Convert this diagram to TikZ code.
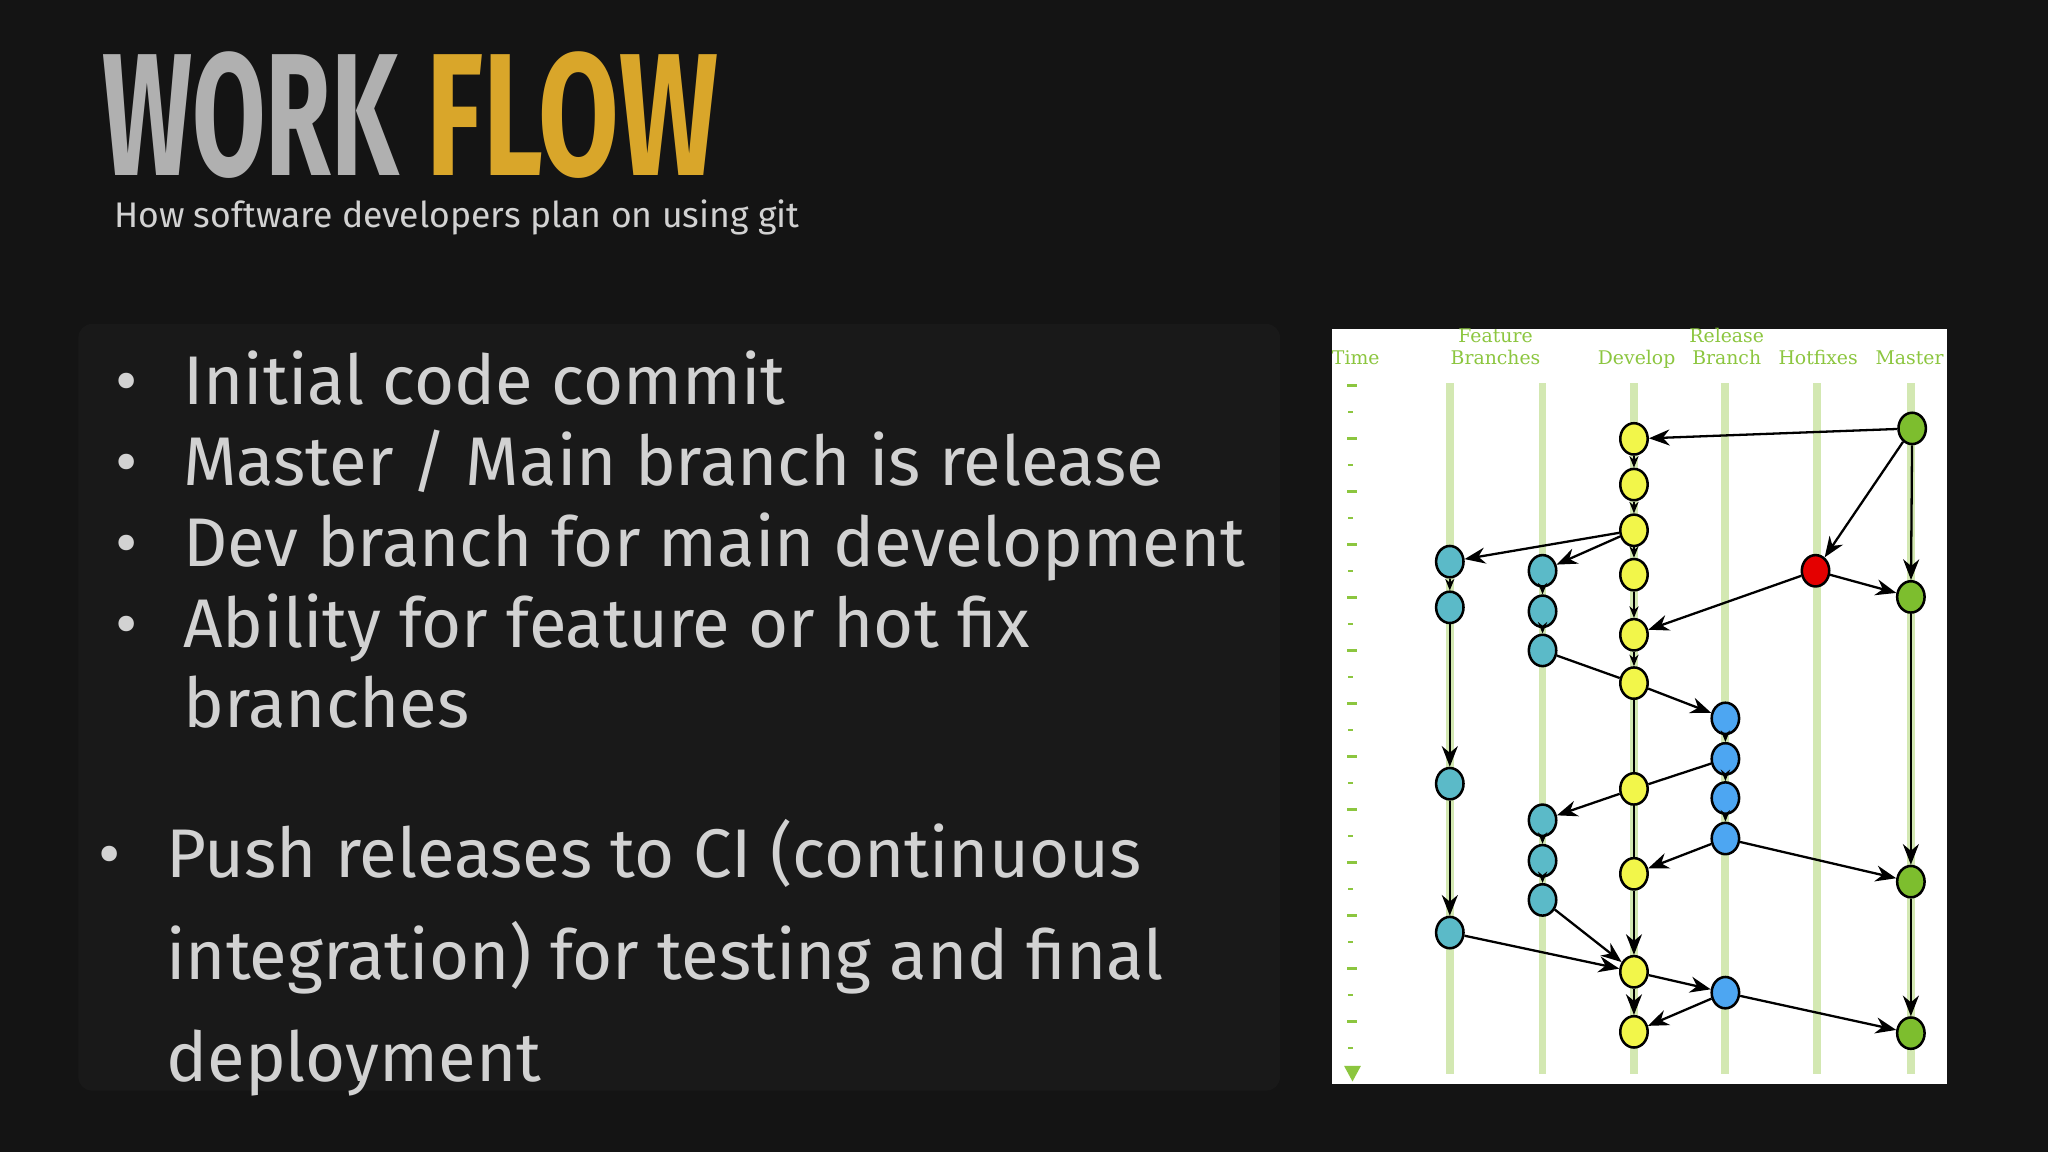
\documentclass[tikz,border=0pt]{standalone}
\usepackage{fontspec}
\setmainfont{Fira Sans}
\newfontfamily\slab{DejaVu Serif}
\usetikzlibrary{shapes.geometric,arrows.meta}
\definecolor{bg}{HTML}{141414}
\definecolor{panel}{HTML}{191919}
\definecolor{txt}{HTML}{D2D2D2}
\definecolor{hdr}{HTML}{8CC63F}
\definecolor{stripe}{HTML}{D3E8B2}
\definecolor{cy}{HTML}{F2F64A}
\definecolor{ct}{HTML}{5BBAC8}
\definecolor{cb}{HTML}{4DA6F2}
\definecolor{cg}{HTML}{7DBE2E}
\definecolor{cr}{HTML}{E40000}
\definecolor{gold}{HTML}{D9A62A}
\definecolor{silver}{HTML}{B0B0B0}
\tikzset{
 commitnode/.style={ellipse,draw=black,line width=1.1pt,inner sep=0,minimum width=0.42cm,minimum height=0.48cm},
 ye/.style={commitnode,fill=cy}, te/.style={commitnode,fill=ct}, bl/.style={commitnode,fill=cb}, gr/.style={commitnode,fill=cg}, rd/.style={commitnode,fill=cr},
 ar/.style={line width=1pt,-{Stealth[length=9pt,width=7pt]}},
 sa/.style={line width=1pt,-{Stealth[length=5pt,width=4pt]}},
 ln/.style={line width=1pt},
 hd/.style={text=hdr,font=\slab\fontsize{8.2}{9}\selectfont,align=center,anchor=base},
 bul/.style={text=txt,anchor=base west,font=\fontsize{30}{34}\selectfont},
 ttl/.style={anchor=base west,inner sep=0,text depth=0pt},
}
\begin{document}
\begin{tikzpicture}[x=0.02cm,y=-0.02cm]
\fill[bg] (0,0) rectangle (1568,882);
\useasboundingbox (0,0) rectangle (1568,882);
\fill[panel,rounded corners=6pt] (60,248) rectangle (980,835);
% title
\node[ttl,text=silver] (w) at (78,134) {\scalebox{0.61}[1]{\fontsize{76}{76}\selectfont\bfseries WORK}};
\node[ttl,text=gold] (f) at (326,134) {\scalebox{0.67}[1]{\fontsize{76}{76}\selectfont\bfseries FLOW}};
\node[anchor=base west,inner sep=0,text=txt,font=\fontsize{15.5}{18}\selectfont] (sub) at (87,174) {How software developers plan on using git};
% bullets
\foreach \y/\t [count=\i] in {310/{Initial code commit},372/{Master / Main branch is release},434/{Dev branch for main development},496/{Ability for feature or hot fix}}{
 \node[bul,inner sep=0] (b\i) at (88,\y) {•};
 \node[bul,inner sep=0] (t\i) at (140,\y) {\t};}
\node[bul,inner sep=0] (t5) at (140,557) {branches};
\node[bul,inner sep=0] (b6) at (75,672) {•};
\node[bul,inner sep=0] (t6) at (127,672) {Push releases to CI (continuous};
\node[bul,inner sep=0] (t7) at (127,750) {integration) for testing and final};
\node[bul,inner sep=0] (t8) at (127,828) {deployment};
% diagram panel
\fill[white] (1020,252) rectangle (1491,830);
\foreach \x in {1110,1181,1251,1321,1391,1463}{\fill[stripe] (\x-3,293) rectangle (\x+3,822);}
\foreach \k in {0,...,25}{
 \pgfmathsetmacro{\yy}{295+\k*20.3}
 \ifodd\k \fill[hdr] (1032,\yy-1) rectangle (1036,\yy+1); \else \fill[hdr] (1031,\yy-1.3) rectangle (1039,\yy+1.3);\fi}
\fill[hdr] (1029,816) -- (1042,816) -- (1035.5,828) -- cycle;
\node[hd] (hT) at (1038,279) {Time};
\node[hd] (hF) at (1145,279) {Branches};
\node[hd] at (1145,262) {Feature};
\node[hd] (hD) at (1253,279) {Develop};
\node[hd] (hR) at (1322,279) {Branch};
\node[hd] at (1322,262) {Release};
\node[hd] (hH) at (1392,279) {Hotfixes};
\node[hd] (hM) at (1462,279) {Master};
% nodes
\node[gr] (m1) at (1464,328) {}; \node[gr] (m2) at (1463,457) {};
\node[gr] (m3) at (1463,675) {}; \node[gr] (m4) at (1463,791) {};
\node[rd] (h1) at (1390,437) {};
\foreach \i/\y in {1/336,2/371,3/406,4/440,5/486,6/523,7/604,8/669,9/744,10/790}{\node[ye] (d\i) at (1251,\y) {};}
\foreach \i/\y in {1/430,2/465,3/600,4/714}{\node[te] (f\i) at (1110,\y) {};}
\foreach \i/\y in {1/437,2/468,3/498,4/628,5/659,6/689}{\node[te] (g\i) at (1181,\y) {};}
\foreach \i/\y in {1/550,2/581,3/611,4/642,5/760}{\node[bl] (r\i) at (1321,\y) {};}
% edges
\draw[ar] (m1) -- (d1); \draw[ar] (m1) -- (h1); \draw[ar] (m1) -- (m2);
\draw[ar] (h1) -- (m2); \draw[ar] (h1) -- (d5);
\draw[sa] (d1) -- (d2); \draw[sa] (d2) -- (d3); \draw[sa] (d3) -- (d4);
\draw[ar] (d3) -- (f1); \draw[ar] (d3) -- (g1);
\draw[sa] (d4) -- (d5); \draw[sa] (d5) -- (d6);
\draw[sa] (f1) -- (f2); \draw[ar] (f2) -- (f3); \draw[ar] (f3) -- (f4);
\draw[sa] (g1) -- (g2); \draw[sa] (g2) -- (g3);
\draw[ln] (g3) -- (d6); \draw[ar] (d6) -- (r1);
\draw[sa] (r1) -- (r2); \draw[sa] (r2) -- (r3); \draw[sa] (r3) -- (r4);
\draw[ln] (r2) -- (d7); \draw[ln] (d6) -- (d7); \draw[ar] (d7) -- (g4);
\draw[sa] (g4) -- (g5); \draw[sa] (g5) -- (g6);
\draw[ar] (r4) -- (d8); \draw[ar] (r4) -- (m3); \draw[ar] (m2) -- (m3);
\draw[ln] (d7) -- (d8); \draw[ar] (d8) -- (d9);
\draw[ar] (g6) -- (d9); \draw[ar] (f4) -- (d9);
\draw[ar] (d9) -- (r5); \draw[ar] (d9) -- (d10); \draw[ar] (r5) -- (d10);
\draw[ar] (r5) -- (m4); \draw[ar] (m3) -- (m4);
\end{tikzpicture}
\end{document}
